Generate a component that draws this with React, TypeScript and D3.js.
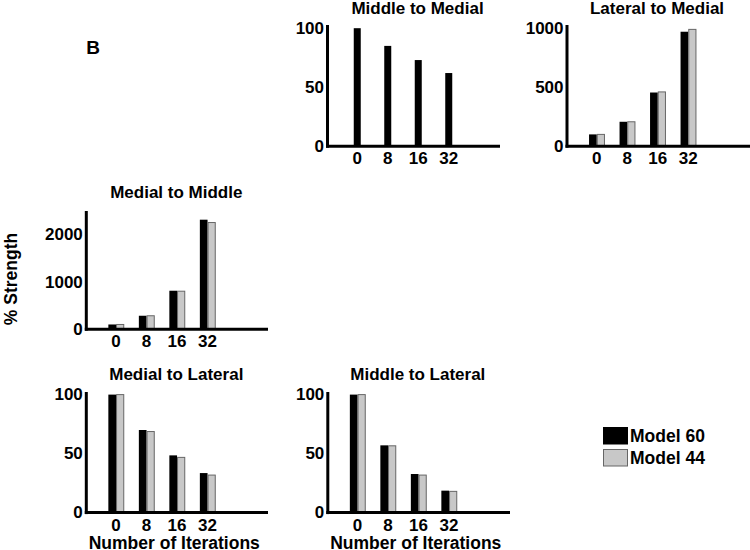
import React from "react";
import * as d3 from "d3";

const iterations = ["0", "8", "16", "32"];

const titles = [
  "Middle to Medial",
  "Lateral to Medial",
  "Medial to Middle",
  "Medial to Lateral",
  "Middle to Lateral",
];

const model60 = [
  [100, 85, 73, 62],
  [100, 207, 455, 970],
  [100, 285, 815, 2320],
  [100, 70, 48.5, 33.5],
  [100, 57, 32.7, 18.6],
];

const model44: (number[] | null)[] = [
  null,
  [100, 207, 460, 990],
  [100, 285, 805, 2260],
  [100, 68.7, 46.8, 31.8],
  [100, 56.6, 31.8, 18],
];

const yTicks = [
  [0, 50, 100],
  [0, 500, 1000],
  [0, 1000, 2000],
  [0, 50, 100],
  [0, 50, 100],
];

const yTop = [100, 1000, 2500, 100, 100];

const seriesNames = ["Model 60", "Model 44"];
const seriesColors = ["#000000", "#c8c8c8"];

// layout (pixels)
const layout = [
  { ax: 327.5, base: 146.2, axTop: 25, xEnd: 500, xlabel: false, tOff: 14.5 },
  { ax: 567, base: 146.2, axTop: 25, xEnd: 750, xlabel: false, tOff: 14.5 },
  { ax: 86.3, base: 329.2, axTop: 211, xEnd: 268, xlabel: false, tOff: 13 },
  { ax: 86.3, base: 512.6, axTop: 392, xEnd: 268, xlabel: true, tOff: 15 },
  { ax: 327.8, base: 512.6, axTop: 392, xEnd: 510, xlabel: true, tOff: 15 },
];

const FONT = "'Liberation Sans', Arial, Helvetica, sans-serif";
const PLOT_H = 118;

function Panel({ i }: { i: number }) {
  const L = layout[i];
  const y = d3.scaleLinear().domain([0, yTop[i]]).range([L.base, L.base - PLOT_H]);
  const x = d3
    .scaleBand<string>()
    .domain(iterations)
    .range([L.ax + 14.5, L.ax + 136.5]);
  const step = x.bandwidth();
  const pair = model44[i] !== null;
  const bw = pair ? 7.7 : 7;
  return (
    <g>
      <text
        x={L.ax + 90}
        y={L.base - PLOT_H - L.tOff}
        textAnchor="middle"
        fontFamily={FONT}
        fontWeight="bold"
        fontSize={17}
      >
        {titles[i]}
      </text>
      {iterations.map((c, k) => {
        const cx = (x(c) as number) + step / 2;
        const v60 = model60[i][k];
        const s44 = model44[i];
        return (
          <g key={c}>
            <rect
              x={pair ? cx - bw : cx - bw / 2}
              y={y(v60)}
              width={bw}
              height={L.base - y(v60)}
              fill={seriesColors[0]}
            />
            {s44 && (
              <rect
                x={cx + 0.5}
                y={y(s44[k])}
                width={bw - 0.5}
                height={L.base - y(s44[k])}
                fill={seriesColors[1]}
                stroke="#666"
                strokeWidth={1}
              />
            )}
            <text
              x={cx}
              y={L.base + 12.5}
              dominantBaseline="central"
              textAnchor="middle"
              fontFamily={FONT}
              fontWeight="bold"
              fontSize={17}
            >
              {c}
            </text>
          </g>
        );
      })}
      <line x1={L.ax} x2={L.ax} y1={L.axTop} y2={L.base + 1.5} stroke="#000" strokeWidth={3} />
      <line x1={L.ax - 1.5} x2={L.xEnd} y1={L.base} y2={L.base} stroke="#000" strokeWidth={3} />
      {yTicks[i].map((t) => (
        <text
          key={t}
          x={L.ax - 3.5}
          y={y(t)}
          dominantBaseline="central"
          textAnchor="end"
          fontFamily={FONT}
          fontWeight="bold"
          fontSize={17}
        >
          {t}
        </text>
      ))}
      {L.xlabel && (
        <text
          x={L.ax + 88}
          y={L.base + 36}
          textAnchor="middle"
          fontFamily={FONT}
          fontWeight="bold"
          fontSize={17.5}
        >
          Number of Iterations
        </text>
      )}
    </g>
  );
}

export default function App() {
  return (
    <svg
      width={750}
      height={550}
      style={{ position: "absolute", left: 0, top: 0, background: "#fff" }}
    >
      <rect width={750} height={550} fill="#fff" />
      <text x={93} y={54} textAnchor="middle" fontFamily={FONT} fontWeight="bold" fontSize={19}>
        B
      </text>
      <text
        transform="translate(16.5,279) rotate(-90)"
        textAnchor="middle"
        fontFamily={FONT}
        fontWeight="bold"
        fontSize={17.5}
      >
        % Strength
      </text>
      {titles.map((t, i) => (
        <Panel key={t} i={i} />
      ))}
      {seriesNames.map((n, k) => (
        <g key={n}>
          <rect
            x={603.5}
            y={427.5 + k * 22}
            width={24}
            height={16.5}
            fill={seriesColors[k]}
            stroke={k === 0 ? "#000" : "#666"}
            strokeWidth={1}
          />
          <text
            x={630}
            y={436 + k * 22}
            dominantBaseline="central"
            fontFamily={FONT}
            fontWeight="bold"
            fontSize={17.5}
          >
            {n}
          </text>
        </g>
      ))}
    </svg>
  );
}
